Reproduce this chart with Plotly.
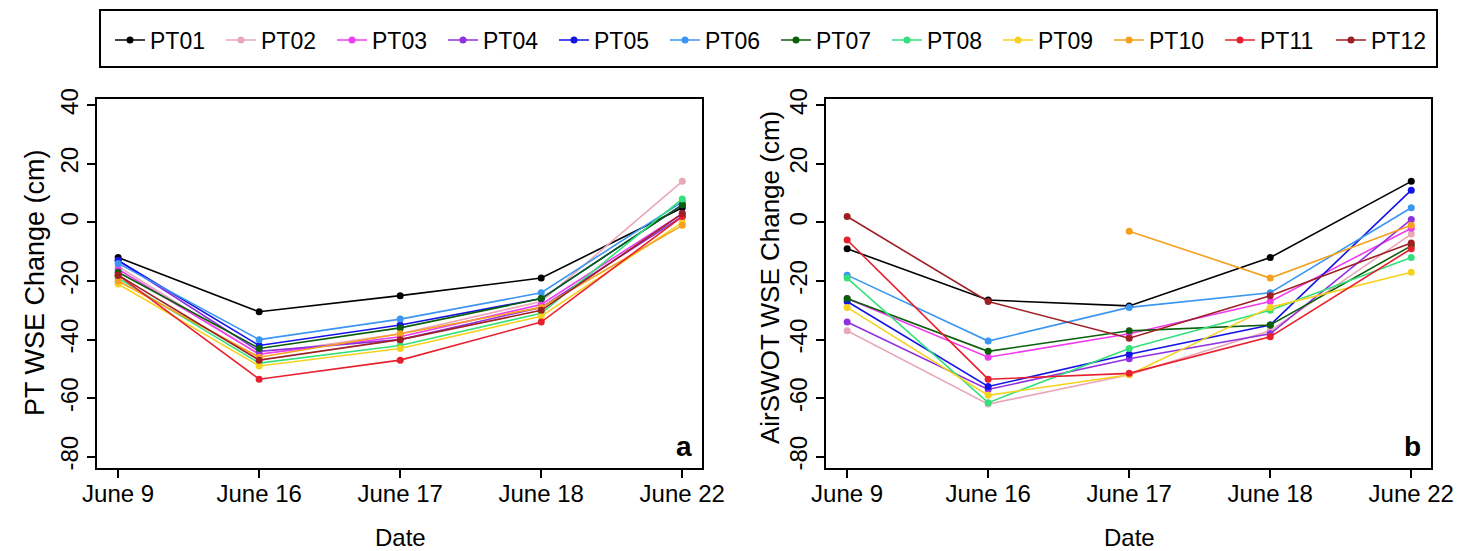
import plotly.graph_objects as go

dates = ["June 9", "June 16", "June 17", "June 18", "June 22"]
series_names = ["PT01", "PT02", "PT03", "PT04", "PT05", "PT06",
                "PT07", "PT08", "PT09", "PT10", "PT11", "PT12"]
colors = ["#000000", "#E8A8B8", "#F03CF0", "#9130E0", "#1414E6", "#3A96F0",
          "#0A5F0A", "#34E07A", "#F5D21E", "#F5A01E", "#E8202E", "#9E1F24"]

# Panel a: PT WSE change (cm)
pt_PT01 = [-12, -30.5, -25, -19, 5]
pt_PT02 = [-15, -45, -38, -27, 14]
pt_PT03 = [-16, -45, -39, -28, 3]
pt_PT04 = [-13, -44, -40, -29, 2]
pt_PT05 = [-13, -42, -35, -26, 6]
pt_PT06 = [-14, -40, -33, -24, 7]
pt_PT07 = [-17, -43, -36, -26, 6]
pt_PT08 = [-19, -48, -42, -31, 8]
pt_PT09 = [-21, -49, -43, -32, 0]
pt_PT10 = [-20, -46, -38, -29, -1]
pt_PT11 = [-18, -53.5, -47, -34, 2]
pt_PT12 = [-18, -47, -40, -30, 3]

# Panel b: AirSWOT WSE change (cm)
as_PT01 = [-9, -26.5, -28.5, -12, 14]
as_PT02 = [-37, -62, -52, -37, -4]
as_PT03 = [-26, -46, -38, -27, -2]
as_PT04 = [-34, -57, -46.5, -38, 1]
as_PT05 = [-27, -56, -45, -35, 11]
as_PT06 = [-18, -40.5, -29, -24, 5]
as_PT07 = [-26, -44, -37, -35, -8]
as_PT08 = [-19, -61.5, -43, -30, -12]
as_PT09 = [-29, -59, -52, -29, -17]
as_PT10 = [None, None, -3, -19, -1]
as_PT11 = [-6, -53.5, -51.5, -39, -9]
as_PT12 = [2, -27, -39.5, -25, -7]

pt_data = [pt_PT01, pt_PT02, pt_PT03, pt_PT04, pt_PT05, pt_PT06,
           pt_PT07, pt_PT08, pt_PT09, pt_PT10, pt_PT11, pt_PT12]
as_data = [as_PT01, as_PT02, as_PT03, as_PT04, as_PT05, as_PT06,
           as_PT07, as_PT08, as_PT09, as_PT10, as_PT11, as_PT12]

y_ticks = [-80, -60, -40, -20, 0, 20, 40]

FONT = "Liberation Sans, Arial, sans-serif"
xidx = list(range(1, len(dates) + 1))

fig = go.Figure()
for name, col, ya in zip(series_names, colors, pt_data):
    fig.add_trace(go.Scatter(x=xidx, y=ya, mode="lines+markers", name=name,
                             line=dict(color=col, width=1.6),
                             marker=dict(color=col, size=7),
                             xaxis="x", yaxis="y", legendgroup=name,
                             showlegend=True))
for name, col, yb in zip(series_names, colors, as_data):
    fig.add_trace(go.Scatter(x=xidx, y=yb, mode="lines+markers", name=name,
                             line=dict(color=col, width=1.6),
                             marker=dict(color=col, size=7),
                             xaxis="x2", yaxis="y2", legendgroup=name,
                             showlegend=False, connectgaps=False))

W, H = 1460, 551
def px(x):
    return x / W
def py(y):
    return 1 - y / H

ax_common = dict(showline=True, mirror=True, linecolor="black", linewidth=1.5,
                 ticks="outside", ticklen=8, tickwidth=1.5, tickcolor="black",
                 showgrid=False, zeroline=False, automargin=False,
                 tickfont=dict(family=FONT, size=24, color="black"))
xcommon = dict(ax_common, range=[0.85, 5.14], tickmode="array",
               tickvals=xidx, ticktext=dates, ticklabelstandoff=-5)
ycommon = dict(ax_common, range=[-83.8, 42.1], tickmode="array",
               tickvals=y_ticks, ticktext=[str(v) for v in y_ticks],
               tickangle=-90)

ydom = [py(468), py(99)]
fig.update_layout(
    width=W, height=H,
    margin=dict(l=0, r=0, t=0, b=0, autoexpand=False),
    paper_bgcolor="white", plot_bgcolor="white",
    font=dict(family=FONT, color="black"),
    xaxis=dict(xcommon, domain=[px(97), px(702)], anchor="y"),
    yaxis=dict(ycommon, domain=ydom, anchor="x"),
    xaxis2=dict(xcommon, domain=[px(826), px(1431)], anchor="y2"),
    yaxis2=dict(ycommon, domain=ydom, anchor="x2"),
    showlegend=True,
    legend=dict(orientation="h", x=px(110), xanchor="left",
                y=py(40), yanchor="middle",
                font=dict(family=FONT, size=23, color="black"),
                entrywidth=66, entrywidthmode="pixels",
                bgcolor="rgba(0,0,0,0)", borderwidth=0,
                traceorder="normal"),
    shapes=[dict(type="rect", xref="paper", yref="paper",
                 x0=px(100), x1=px(1437), y0=py(67), y1=py(10),
                 line=dict(color="black", width=2))],
    annotations=[
        dict(text="PT WSE Change (cm)", xref="paper", yref="paper",
             x=px(35), y=py(283), textangle=-90, showarrow=False,
             font=dict(family=FONT, size=27, color="black"),
             xanchor="center", yanchor="middle"),
        dict(text="AirSWOT WSE Change (cm)", xref="paper", yref="paper",
             x=px(770), y=py(278), textangle=-90, showarrow=False,
             font=dict(family=FONT, size=26, color="black"),
             xanchor="center", yanchor="middle"),
        dict(text="Date", xref="paper", yref="paper",
             x=px(400), y=py(537), showarrow=False,
             font=dict(family=FONT, size=24, color="black"),
             xanchor="center", yanchor="middle"),
        dict(text="Date", xref="paper", yref="paper",
             x=px(1129), y=py(537), showarrow=False,
             font=dict(family=FONT, size=24, color="black"),
             xanchor="center", yanchor="middle"),
        dict(text="<b>a</b>", xref="paper", yref="paper",
             x=px(684), y=py(446), showarrow=False,
             font=dict(family=FONT, size=28, color="black"),
             xanchor="center", yanchor="middle"),
        dict(text="<b>b</b>", xref="paper", yref="paper",
             x=px(1412), y=py(446), showarrow=False,
             font=dict(family=FONT, size=28, color="black"),
             xanchor="center", yanchor="middle"),
    ],
)

fig.write_html("out.html")
